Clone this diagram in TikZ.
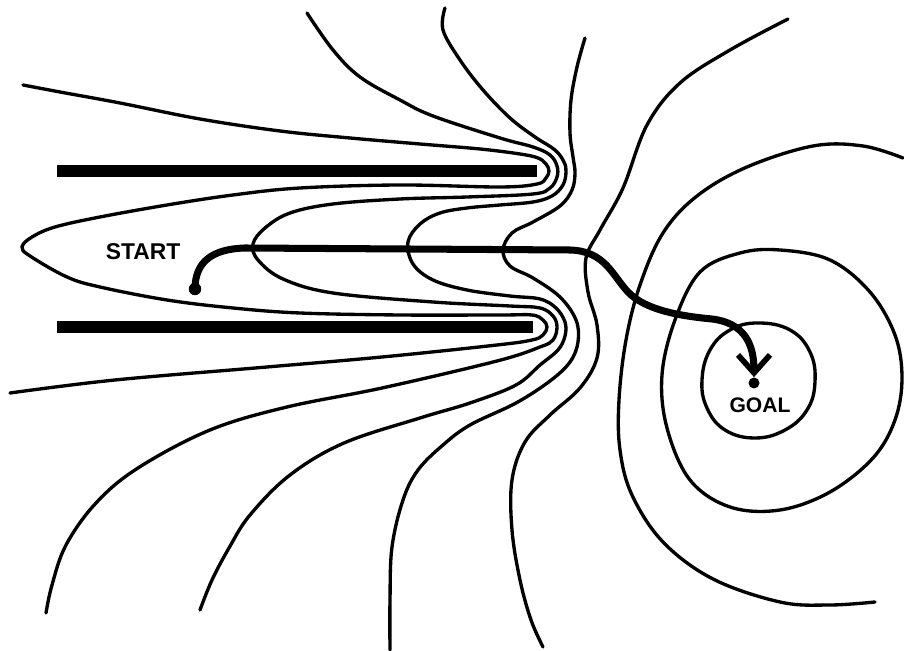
\documentclass[tikz,border=0pt]{standalone}
\usepackage{fontspec}
\setmainfont{Liberation Sans}
\usepackage{tikz}
\usetikzlibrary{arrows.meta,positioning}
\tikzset{
    parede/.style={fill=black, draw=none},
    contorno/.style={line width=1.9pt, line cap=round, line join=round},
    caminho/.style={
        line width=4pt,
        line cap=round,
        -{Straight Barb[length=3.6mm, width=6.4mm, line width=3.2pt]}
    },
    ponto/.style={circle, fill, inner sep=0pt, minimum size=0.25cm},
    rotulo/.style={font=\bfseries\fontsize{13}{15}\selectfont, inner sep=0pt}
}

\begin{document}
\begin{tikzpicture}[x=0.02cm, y=-0.02cm]
    \useasboundingbox (0,0) rectangle (904,651);

    \fill[parede] (57,165) rectangle (537,177);
    \fill[parede] (57,321) rectangle (533,333);

    \draw[contorno] plot[smooth, tension=0.6] coordinates {
        (23,85) (60,92) (120,103) (200,119) (280,131) (350,138) (420,144)
        (480,149) (520,154) (538,158) (546,164) (549,171) (546,178) (537,184)
        (500,187) (400,185) (300,188) (233,195) (167,205) (100,217) (55,227)
        (32,237) (22,247) (30,256) (67,277) (100,287) (167,300) (233,308)
        (300,313) (400,315) (500,315) (532,315) (543,320) (547,327) (543,335)
        (532,340) (497,345) (382,357) (267,367) (115,380) (10,393)};
    \draw[contorno] plot[smooth, tension=0.6] coordinates {
        (307,13) (333,50) (360,77) (400,100) (433,116) (500,138) (533,147)
        (550,155) (557,166) (557,177) (550,188) (533,194) (467,197) (400,199)
        (333,204) (290,213) (265,228) (253,244) (258,260) (283,279) (333,293)
        (433,302) (510,306) (540,308) (553,316) (557,327) (553,340) (540,347)
        (497,361) (382,388) (287,407) (210,430) (138,468) (96,503) (66,545)
        (52,585) (46,613)};
    \draw[contorno] plot[smooth, tension=0.6] coordinates {
        (445,8) (443,30) (460,60) (483,90) (510,118) (535,137) (555,150)
        (564,162) (566,172) (563,185) (552,196) (533,202) (500,205) (467,208)
        (440,213) (420,224) (408,242) (413,264) (433,280) (467,290) (510,296)
        (540,299) (556,308) (565,322) (565,336) (558,350) (540,365) (516,385)
        (470,403) (420,418) (344,443) (290,475) (250,515) (229,548) (212,580)
        (200,610)};
    \draw[contorno] plot[smooth, tension=0.6] coordinates {
        (585,38) (577,67) (571,100) (570,133) (573,157) (575,173) (572,190)
        (560,206) (533,222) (512,233) (503,250) (510,266) (533,278) (560,297)
        (576,320) (578,342) (570,362) (550,381) (516,403) (470,425) (443,445)
        (418,470) (403,500) (392,547) (390,600) (390,650)};
    \draw[contorno] plot[smooth, tension=0.6] coordinates {
        (788,19) (730,50) (680,83) (647,125) (623,188) (600,230) (586,258)
        (588,292) (597,325) (597,358) (580,388) (550,415) (525,442) (512,480)
        (512,530) (520,580) (531,620) (543,647)};
    \draw[contorno] plot[smooth, tension=0.6] coordinates {
        (903,158) (863,146) (813,146) (747,167) (697,196) (663,233) (640,285)
        (626,340) (619,400) (620,450) (632,495) (663,542) (713,579) (780,602)
        (830,605) (875,602)};
    \draw[contorno] plot[smooth cycle, tension=0.6] coordinates {
        (700,272) (740,253) (780,250) (830,260) (870,292) (895,335) (902,378)
        (895,420) (873,458) (830,492) (780,510) (730,507) (690,480) (667,428)
        (662,375) (675,320)};
    \draw[contorno] plot[smooth cycle, tension=0.7] coordinates {
        (702,380) (710,350) (730,330) (758,323) (790,330) (810,352) (815,382)
        (807,410) (785,430) (755,438) (725,430) (707,408)};

    \node[ponto] (start) at (195,289) {};
    \node[ponto, minimum size=0.22cm] (goal) at (754,383) {};
    \node[rotulo] (startlabel) at (143,252) {START};
    \node[rotulo, font=\bfseries\fontsize{12}{14}\selectfont,
          below=0.18cm of goal, xshift=0.12cm] (goallabel) {GOAL};

    \draw[caminho] (start.center) .. controls (195,262) and (212,249) .. (245,248)
        -- (570,250) .. controls (605,251) and (612,275) .. (628,292)
        .. controls (645,310) and (680,316) .. (712,319)
        .. controls (745,323) and (754,345) .. (goal.north);
\end{tikzpicture}
\end{document}
